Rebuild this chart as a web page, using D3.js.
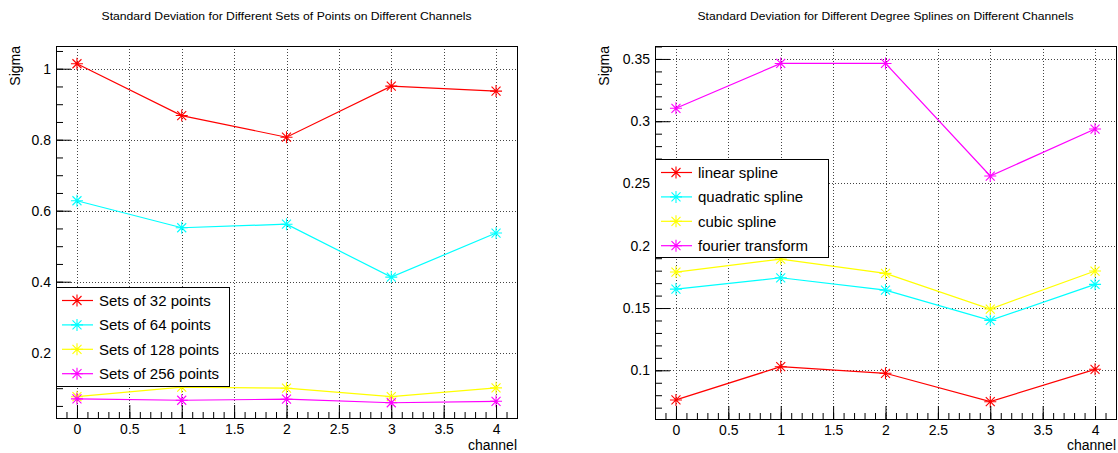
<!DOCTYPE html>
<html><head><meta charset="utf-8">
<script src="https://cdn.jsdelivr.net/npm/d3@7"></script>
<style>body{margin:0;background:#fff}svg{display:block}text{font-family:"Liberation Sans",Arial,Helvetica,sans-serif;fill:#000}</style>
</head><body><svg id="c" width="1118" height="453"></svg>
<script>
// ---------- data ----------
const channels = [0, 1, 2, 3, 4];
const xTickValues = [0, 0.5, 1, 1.5, 2, 2.5, 3, 3.5, 4];
const xTickLabels = ["0", "0.5", "1", "1.5", "2", "2.5", "3", "3.5", "4"];

const pointSetNames = ["Sets of 32 points", "Sets of 64 points", "Sets of 128 points", "Sets of 256 points"];
const sets32  = [1.014, 0.868, 0.807, 0.951, 0.937];
const sets64  = [0.628, 0.552, 0.562, 0.413, 0.537];
const sets128 = [0.076, 0.103, 0.100, 0.076, 0.101];
const sets256 = [0.070, 0.066, 0.069, 0.059, 0.063];
const leftYTickValues = [0.2, 0.4, 0.6, 0.8, 1.0];
const leftYTickLabels = ["0.2", "0.4", "0.6", "0.8", "1"];

const splineNames = ["linear spline", "quadratic spline", "cubic spline", "fourier transform"];
const linearSpline     = [0.0762, 0.1029, 0.0976, 0.0748, 0.1008];
const quadraticSpline  = [0.1652, 0.1743, 0.1644, 0.1401, 0.1690];
const cubicSpline      = [0.1789, 0.1893, 0.1778, 0.1492, 0.1797];
const fourierTransform = [0.3104, 0.3464, 0.3464, 0.2560, 0.2937];
const rightYTickValues = [0.1, 0.15, 0.2, 0.25, 0.3, 0.35];
const rightYTickLabels = ["0.1", "0.15", "0.2", "0.25", "0.3", "0.35"];

const seriesColors = ["#ff0000", "#00ffff", "#ffff00", "#ff00ff"];

// ---------- drawing ----------
const svg = d3.select("#c");
const FONT = '"Liberation Sans", Arial, Helvetica, sans-serif';
const starPath = "M-6,0H6M0,-6V6M-4.5,-4.5L4.5,4.5M-4.5,4.5L4.5,-4.5";

function panel(cfg) {
  const g = svg.append("g");
  const x = d3.scaleLinear().domain([-0.2, 4.2]).range([cfg.left, cfg.right]);
  const y = d3.scaleLinear().domain(cfg.yDomain).range([cfg.bottom, cfg.top]);

  // title
  g.append("text").attr("x", (cfg.left + cfg.right) / 2).attr("y", 20)
    .attr("text-anchor", "middle").style("font-size", "11px")
    .attr("textLength", cfg.titleLen).attr("lengthAdjust", "spacingAndGlyphs")
    .text(cfg.title);

  // grid
  const grid = g.append("g").attr("stroke", "#444").attr("stroke-dasharray", "1,2").attr("stroke-width", 1);
  grid.selectAll(".gx").data(xTickValues).join("line")
    .attr("x1", d => Math.round(x(d)) + 0.5).attr("x2", d => Math.round(x(d)) + 0.5)
    .attr("y1", cfg.top).attr("y2", cfg.bottom);
  grid.selectAll(".gy").data(cfg.yTicks).join("line")
    .attr("y1", d => Math.round(y(d)) + 0.5).attr("y2", d => Math.round(y(d)) + 0.5)
    .attr("x1", cfg.left).attr("x2", cfg.right);

  // series
  cfg.series.forEach((vals, i) => {
    const pts = channels.map((c, k) => [x(c), y(vals[k])]);
    g.append("path").attr("d", d3.line()(pts)).attr("fill", "none")
      .attr("stroke", seriesColors[i]).attr("stroke-width", 1.2);
    g.selectAll(null).data(pts).join("path")
      .attr("transform", d => `translate(${d[0]},${d[1]})`)
      .attr("d", starPath).attr("stroke", seriesColors[i]).attr("stroke-width", 1.1).attr("fill", "none");
  });

  // axes
  const yMinor = d3.range(cfg.minorStart, cfg.minorEnd + 1e-9, cfg.minorStep);
  const ax = g.append("g").attr("transform", `translate(${cfg.left},0)`)
    .call(d3.axisLeft(y).tickValues(yMinor).tickSize(-7).tickFormat(""));
  ax.select(".domain").remove();
  const ay = g.append("g").attr("transform", `translate(${cfg.left},0)`)
    .call(d3.axisLeft(y).tickValues(cfg.yTicks).tickSize(-15).tickPadding(5)
      .tickFormat((d, i) => cfg.yLabels[i]));
  ay.select(".domain").remove();

  const xMinor = d3.range(-0.1, 4.15, 0.1);
  const bx = g.append("g").attr("transform", `translate(0,${cfg.bottom})`)
    .call(d3.axisBottom(x).tickValues(xMinor).tickSize(-6).tickFormat(""));
  bx.select(".domain").remove();
  const bxM = g.append("g").attr("transform", `translate(0,${cfg.bottom})`)
    .call(d3.axisBottom(x).tickValues(xTickValues).tickSize(-13).tickPadding(6)
      .tickFormat((d, i) => xTickLabels[i]));
  bxM.select(".domain").remove();
  g.selectAll(".tick line").attr("stroke", "#000");
  g.selectAll(".tick text").style("font-size", "14px").style("font-family", FONT).attr("fill", "#000");

  // frame
  g.append("rect").attr("x", cfg.left + 0.5).attr("y", cfg.top + 0.5)
    .attr("width", cfg.right - cfg.left).attr("height", cfg.bottom - cfg.top)
    .attr("fill", "none").attr("stroke", "#000").attr("stroke-width", 1);

  // axis titles
  g.append("text").attr("x", cfg.right).attr("y", 450).attr("text-anchor", "end")
    .style("font-size", "14px").text("channel");
  g.append("text").attr("transform", `translate(${cfg.sigmaX},46) rotate(-90)`)
    .attr("text-anchor", "end").style("font-size", "14px").text("Sigma");

  // legend
  const L = cfg.legend;
  const lg = g.append("g");
  lg.append("rect").attr("x", L.x + 0.5).attr("y", L.y + 0.5).attr("width", L.w).attr("height", L.h)
    .attr("fill", "#fff").attr("stroke", "#000").attr("stroke-width", 1);
  cfg.names.forEach((name, i) => {
    const cy = L.y + 13.5 + i * 24.4;
    lg.append("line").attr("x1", L.x + 6).attr("x2", L.x + 37).attr("y1", cy).attr("y2", cy)
      .attr("stroke", seriesColors[i]).attr("stroke-width", 1.2);
    lg.append("path").attr("transform", `translate(${L.x + 21},${cy})`).attr("d", starPath)
      .attr("stroke", seriesColors[i]).attr("stroke-width", 1.1).attr("fill", "none");
    lg.append("text").attr("x", L.x + 43).attr("y", cy).attr("dy", "0.35em")
      .style("font-size", "15px").text(name);
  });
}

panel({
  left: 56, right: 517, top: 46, bottom: 418,
  yDomain: [0.016, 1.064],
  yTicks: leftYTickValues, yLabels: leftYTickLabels,
  minorStart: 0.05, minorEnd: 1.05, minorStep: 0.05,
  series: [sets32, sets64, sets128, sets256], names: pointSetNames,
  title: "Standard Deviation for Different Sets of Points on Different Channels", titleLen: 370,
  sigmaX: 20,
  legend: { x: 56, y: 287, w: 173, h: 99 }
});
panel({
  left: 655, right: 1116, top: 46, bottom: 419,
  yDomain: [0.0609, 0.3604],
  yTicks: rightYTickValues, yLabels: rightYTickLabels,
  minorStart: 0.07, minorEnd: 0.36, minorStep: 0.01,
  series: [linearSpline, quadraticSpline, cubicSpline, fourierTransform], names: splineNames,
  title: "Standard Deviation for Different Degree Splines on Different Channels", titleLen: 376,
  sigmaX: 609,
  legend: { x: 655, y: 159, w: 173, h: 98 }
});
</script></body></html>
